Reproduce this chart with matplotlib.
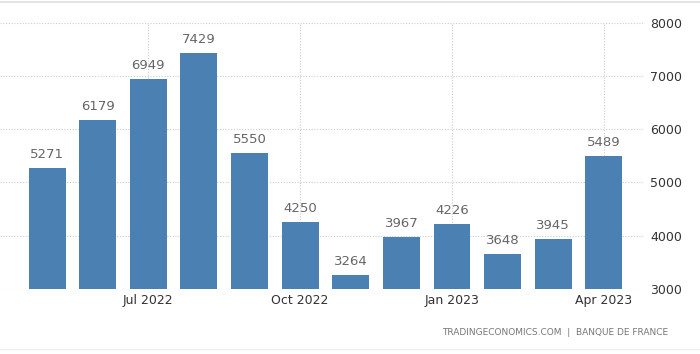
import matplotlib

matplotlib.use("Agg")
import matplotlib.pyplot as plt
from matplotlib.lines import Line2D

months = ["May 2022", "Jun 2022", "Jul 2022", "Aug 2022", "Sep 2022", "Oct 2022",
          "Nov 2022", "Dec 2022", "Jan 2023", "Feb 2023", "Mar 2023", "Apr 2023"]
values = [5271, 6179, 6949, 7429, 5550, 4250, 3264, 3967, 4226, 3648, 3945, 5489]
tick_months = ["Jul 2022", "Oct 2022", "Jan 2023", "Apr 2023"]
y_ticks = [3000, 4000, 5000, 6000, 7000, 8000]

BAR = "#4a80b2"
GRID = "#cccccc"
LABEL = "#666666"
TICK = "#333333"

plt.rcParams["font.family"] = ["DejaVu Sans"]

fig = plt.figure(figsize=(7.0, 3.54), dpi=100)
ax = fig.add_axes((0.0, 0.184, 0.919, 0.752))

x = list(range(len(values)))
ax.bar(x, [v - 3000 for v in values], bottom=3000, width=0.73, color=BAR, zorder=3)
for xi, v in zip(x, values):
    ax.text(xi, v + 130, str(v), ha="center", va="bottom", fontsize=9.5, color=LABEL, zorder=4)

ax.set_xlim(-0.93, 11.78)
ax.set_ylim(3000, 8000)
ax.yaxis.tick_right()
ax.set_yticks(y_ticks)
ax.set_yticklabels([str(t) for t in y_ticks], fontsize=9, color=TICK)
ax.set_xticks([months.index(m) for m in tick_months])
ax.set_xticklabels(tick_months, fontsize=9, color=TICK)
ax.tick_params(axis="x", length=0, pad=4)
ax.tick_params(axis="y", length=0, pad=5)

ax.grid(True, color=GRID, linestyle=(0, (1, 1.5)), linewidth=0.8, zorder=0)
for s in ax.spines.values():
    s.set_visible(False)

fig.text(0.954, 0.062, "TRADINGECONOMICS.COM  |  BANQUE DE FRANCE", ha="right", va="center",
         fontsize=6.5, color="#777777")

fig.add_artist(Line2D([0, 1], [0.994, 0.994], color="#e0e0e0", lw=1.2, transform=fig.transFigure))
fig.add_artist(Line2D([0, 1], [0.014, 0.014], color="#eeeeee", lw=1.0, transform=fig.transFigure))

fig.savefig("out.png", dpi=100, facecolor="white")
